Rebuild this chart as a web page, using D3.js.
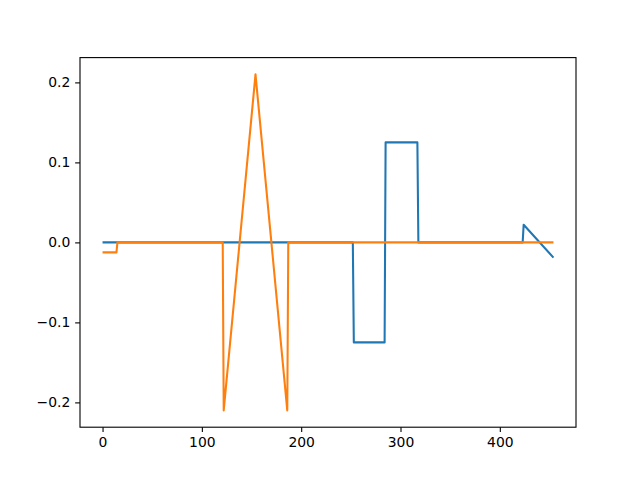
<!DOCTYPE html>
<html>
<head>
<meta charset="utf-8">
<script src="https://cdn.jsdelivr.net/npm/d3@7"></script>
<style>
  body { margin: 0; background: #fff; }
  svg { display: block; }
  .tick text { font-family: "DejaVu Sans", sans-serif; font-size: 13.9px; fill: #000; }
</style>
</head>
<body>
<svg width="640" height="480"></svg>
<script>
// vertices of each trace (x index, value)
const blueX = [0, 252, 253, 284, 285, 317, 318, 423, 424, 454];
const blueY = [0, 0, -0.125, -0.125, 0.125, 0.125, 0, 0, 0.022, -0.019];
const orangeX = [0, 14, 15, 121, 122, 154, 186, 187, 454];
const orangeY = [-0.0125, -0.0125, 0, 0, -0.21, 0.21, -0.21, 0, 0];
const xTicks = [0, 100, 200, 300, 400];
const yTicks = [-0.2, -0.1, 0.0, 0.1, 0.2];

function plotChart() {
  const left = 80, right = 576, top = 57.6, bottom = 427.2;
  const svg = d3.select('svg');

  const xMin = d3.min([...blueX, ...orangeX]);
  const xMax = d3.max([...blueX, ...orangeX]);
  const yMin = d3.min([...blueY, ...orangeY]);
  const yMax = d3.max([...blueY, ...orangeY]);
  const xPad = (xMax - xMin) * 0.05;
  const yPad = (yMax - yMin) * 0.05;

  const xScale = d3.scaleLinear()
      .domain([xMin - xPad, xMax + xPad])
      .range([left, right]);
  const yScale = d3.scaleLinear()
      .domain([yMin - yPad, yMax + yPad])
      .range([bottom, top]);

  const line = d3.line()
      .x(d => xScale(d[0]))
      .y(d => yScale(d[1]));

  const chart = svg.append('g');
  chart.append('defs').append('clipPath')
      .attr('id', 'clip')
      .append('rect')
      .attr('x', left).attr('y', top)
      .attr('width', right - left).attr('height', bottom - top);

  const series = [
    {x: blueX, y: blueY, color: '#1f77b4'},
    {x: orangeX, y: orangeY, color: '#ff7f0e'}
  ];
  series.forEach(s => {
    chart.append('path')
        .attr('d', line(s.x.map((v, i) => [v, s.y[i]])))
        .attr('fill', 'none')
        .attr('stroke', s.color)
        .attr('stroke-width', 2.08)
        .attr('stroke-linejoin', 'round')
        .attr('clip-path', 'url(#clip)');
  });

  const xAxis = d3.axisBottom(xScale)
      .tickValues(xTicks)
      .tickSize(4.86)
      .tickPadding(4.86)
      .tickFormat(d3.format('d'));
  chart.append('g')
      .attr('transform', `translate(0, ${bottom})`)
      .call(xAxis)
      .call(g => g.select('.domain').remove());

  const yAxis = d3.axisLeft(yScale)
      .tickValues(yTicks)
      .tickSize(4.86)
      .tickPadding(4.86)
      .tickFormat(d => d3.format('.1f')(d).replace('-', '\u2212'));
  chart.append('g')
      .attr('transform', `translate(${left}, 0)`)
      .call(yAxis)
      .call(g => g.select('.domain').remove());

  chart.selectAll('.tick line')
      .attr('stroke', '#000')
      .attr('stroke-width', 1.1);

  chart.append('rect')
      .attr('x', left).attr('y', top)
      .attr('width', right - left).attr('height', bottom - top)
      .attr('fill', 'none')
      .attr('stroke', '#000')
      .attr('stroke-width', 1.1);
}

plotChart();
</script>
</body>
</html>
